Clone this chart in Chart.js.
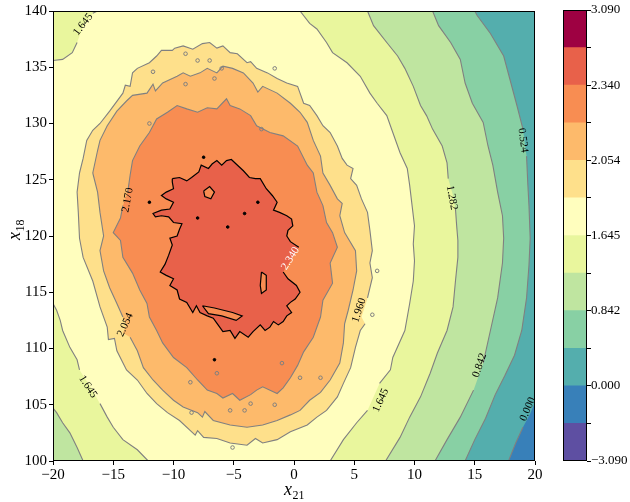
<!DOCTYPE html>
<html>
<head>
<meta charset="utf-8">
<script src="https://cdn.jsdelivr.net/npm/chart.js@4.4.1/dist/chart.umd.min.js"></script>
<style>
  html, body { margin: 0; padding: 0; background: #fff; }
  #wrap { position: relative; width: 630px; height: 502px; }
  #main { position: absolute; left: 0; top: 0; }
  #cbar { position: absolute; left: 540px; top: 0; }
</style>
</head>
<body>
<div id="wrap">
  <canvas id="main" width="630" height="502"></canvas>
  <canvas id="cbar" width="90" height="502"></canvas>
</div>
<script>
/* Axes */
const xRange = [-20, 20];
const yRange = [100, 140];
const xTicks = [-20, -15, -10, -5, 0, 5, 10, 15, 20];
const yTicks = [100, 105, 110, 115, 120, 125, 130, 135, 140];

/* Contour levels, bottom to top of the colour bar, and the band colours between them */
const levels = [-3.090, -1.282, 0.000, 0.524, 0.842, 1.282, 1.645, 1.960, 2.054, 2.170, 2.340, 2.576, 3.090];
const bandColors = ['#5e4fa2', '#3880b9', '#54aead', '#88d0a4', '#bfe5a0', '#e9f69d',
                    '#fffebe', '#fee08b', '#fdba6b', '#f88d52', '#e8614a', '#9e0142'];

/* Open contours (x21, x18), each one runs from frame to frame */
const c1645TopLeft = [[-20,135.6],[-19.2,135.7],[-18.4,136.3],[-18.0,137.2],[-17.5,138.7],[-16.7,139.8],[-16.3,140]];
const c1645BottomLeft = [[-20,114.0],[-19.7,113.4],[-19.4,112.5],[-19.2,111.6],[-18.6,110.1],[-18.0,109.0],[-17.8,108.1],
  [-16.9,106.6],[-16.1,105.1],[-15.5,103.9],[-15.0,103.0],[-14.2,101.9],[-13.0,101.0],[-12.1,100]];
const c1282BottomLeft = [[-20,104.7],[-19.7,104.3],[-19.2,103.4],[-18.6,102.5],[-18.0,101.2],[-17.5,100]];
const c1645Right = [[0.5,140],[1.3,138.9],[1.9,138.4],[2.7,137.2],[3.2,136.3],[4.4,135.4],[5.5,134.2],[6.3,132.7],
  [6.9,131.8],[7.7,130.7],[8.2,129.2],[8.8,127.4],[9.4,126.0],[9.6,124.5],[9.8,122.7],[10.0,120.9],[9.9,119.3],
  [10.0,117.8],[9.9,116.0],[9.6,114.0],[9.2,111.6],[8.2,109.2],[8.0,108.1],[7.1,106.9],[6.6,105.7],[6.1,104.5],
  [5.2,103.4],[4.1,101.9],[3.0,100]];
const c1282Right = [[6.1,140],[6.6,138.7],[7.7,137.2],[8.6,136.0],[9.2,134.9],[9.9,133.3],[10.5,131.6],[11.0,130.7],
  [11.5,129.5],[12.3,128.0],[12.7,126.5],[12.8,125.1],[13.2,123.6],[13.4,122.4],[13.5,120.9],[13.6,119.6],[13.6,118.1],
  [13.4,116.0],[13.2,113.7],[12.7,111.6],[11.9,109.6],[11.3,107.8],[10.5,105.7],[9.6,103.9],[8.8,102.1],[7.6,100]];
const c0842Right = [[11.5,140],[12.0,138.7],[13.0,137.2],[13.8,135.7],[14.2,133.6],[14.8,131.8],[15.7,130.1],[16.1,128.0],
  [16.5,126.3],[16.9,123.9],[17.3,121.8],[17.4,119.8],[17.3,117.6],[16.9,114.5],[16.3,111.6],[15.7,108.7],[14.9,106.3],
  [13.8,103.9],[12.7,101.9],[11.7,100]];
const c0524Right = [[15.0,140],[15.2,139.6],[16.3,138.0],[17.4,136.0],[17.9,134.0],[18.5,131.6],[19.0,129.5],[19.3,127.1],
  [19.4,124.7],[19.5,122.7],[19.6,119.8],[19.5,117.4],[19.3,114.5],[18.9,111.6],[18.3,109.4],[17.5,107.6],[16.7,105.9],
  [15.9,103.8],[15.0,101.9],[14.2,100]];
const c0000Right = [[20,105.2],[19.6,104.2],[19.0,103.0],[18.4,101.6],[17.8,100]];

/* Closed contours round the peak */
const c1960 = [[-17.8,125.6],[-17.5,126.9],[-17.2,128.5],[-16.7,129.4],[-16.1,130.0],[-15.3,131.1],[-14.2,132.7],
  [-14.0,133.4],[-13.6,133.3],[-13.4,134.5],[-13.0,134.9],[-12.0,135.4],[-11.4,136.0],[-11.0,136.5],[-10.1,136.5],
  [-9.9,136.7],[-9.2,136.9],[-8.4,136.6],[-7.6,137.1],[-7.0,137.2],[-6.4,136.7],[-5.9,136.9],[-5.3,136.3],[-4.7,136.2],
  [-3.9,135.4],[-3.6,135.5],[-3.1,134.9],[-2.2,134.5],[-1.4,134.0],[-0.6,133.6],[0.3,133.3],[0.8,131.8],[1.3,131.6],
  [1.9,130.7],[2.4,129.8],[3.0,129.2],[3.6,128.0],[4.0,126.9],[4.4,126.3],[4.9,126.0],[4.7,125.1],[5.2,124.5],
  [5.6,123.3],[6.1,122.1],[6.3,120.5],[6.5,118.7],[6.3,117.6],[6.5,116.3],[6.1,114.5],[5.6,112.8],[5.9,112.2],
  [5.5,111.6],[5.1,110.1],[4.7,108.3],[4.1,106.9],[3.6,105.7],[2.7,104.5],[1.9,103.9],[1.1,103.2],[-0.3,102.6],
  [-1.4,101.9],[-2.6,101.6],[-3.2,102.0],[-3.9,101.4],[-5.3,101.6],[-6.4,102.0],[-7.5,102.1],[-8.0,102.7],[-8.2,102.3],
  [-8.6,102.7],[-9.5,103.6],[-10.5,104.3],[-11.4,105.1],[-12.2,106.0],[-13.0,107.2],[-13.9,108.1],[-14.7,109.8],
  [-14.9,110.9],[-15.4,110.8],[-15.5,111.9],[-16.1,113.7],[-16.7,116.0],[-17.5,118.1],[-17.8,119.8],[-17.9,122.1],
  [-18.0,123.9]];
const c2054 = [[-16.7,125.6],[-16.3,127.6],[-16.1,128.5],[-15.5,129.8],[-14.7,131.1],[-13.9,132.0],[-13.4,132.5],
  [-12.2,132.7],[-11.7,133.5],[-11.5,132.9],[-10.9,133.6],[-9.7,134.2],[-9.2,134.5],[-8.6,134.2],[-7.8,134.5],
  [-7.2,134.9],[-6.4,134.5],[-5.9,135.1],[-5.1,134.9],[-4.2,134.5],[-3.4,133.6],[-3.0,132.8],[-2.6,133.3],[-1.4,132.7],
  [-0.3,131.8],[0.5,131.0],[1.1,130.1],[1.6,128.5],[2.2,127.1],[2.4,125.6],[3.0,124.5],[3.6,123.3],[4.0,122.9],
  [3.8,121.8],[4.2,120.3],[5.1,118.7],[5.2,116.9],[4.9,115.2],[4.5,113.4],[4.2,112.2],[4.1,110.5],[3.8,108.7],
  [3.0,107.2],[2.2,106.1],[1.3,105.4],[0.5,104.5],[-0.3,104.1],[-1.4,103.6],[-2.6,103.2],[-3.9,103.0],[-5.3,103.2],
  [-6.7,103.6],[-7.4,104.4],[-7.6,103.9],[-8.0,104.3],[-9.2,104.8],[-10.0,105.4],[-10.9,106.3],[-11.7,107.2],
  [-12.5,108.3],[-13.0,109.8],[-13.6,111.0],[-14.2,111.4],[-13.9,112.1],[-14.2,112.8],[-14.7,114.0],[-15.3,115.4],
  [-15.8,116.9],[-16.1,118.7],[-15.8,120.0],[-16.1,122.1],[-16.3,123.9]];
const c2170 = [[-13.8,123.9],[-13.6,125.4],[-13.4,126.7],[-12.8,128.0],[-12.0,129.2],[-11.4,130.4],[-10.5,131.0],
  [-9.7,131.6],[-8.9,131.3],[-8.0,131.0],[-7.2,131.4],[-6.4,131.3],[-5.6,132.2],[-5.3,131.6],[-4.5,131.3],[-3.6,130.7],
  [-3.1,129.8],[-2.0,129.2],[-0.9,128.9],[0.3,128.0],[1.1,126.3],[1.6,125.6],[1.9,123.9],[2.4,122.7],[2.7,121.2],
  [3.2,120.3],[3.6,119.0],[3.0,117.6],[3.2,115.8],[2.4,114.3],[2.2,112.8],[1.6,111.0],[0.8,109.7],[0.3,108.5],
  [-0.3,107.4],[-0.9,106.5],[-1.4,106.0],[-2.6,106.6],[-3.1,106.3],[-3.6,105.9],[-4.5,105.4],[-5.1,106.0],[-5.9,105.6],
  [-6.4,106.0],[-7.2,106.3],[-8.0,107.2],[-8.9,108.3],[-10.0,109.2],[-10.9,110.5],[-11.4,111.6],[-12.0,112.8],
  [-12.2,114.0],[-12.8,115.2],[-13.4,116.7],[-14.2,118.1],[-14.4,119.6],[-15.0,120.3],[-14.4,121.6],[-14.2,122.7]];
const c2340 = [[-10.1,125.1],[-9.5,125.2],[-8.9,124.9],[-8.5,125.2],[-7.9,125.7],[-7.7,126.3],[-7.1,126.0],[-6.8,126.4],
  [-6.4,126.7],[-6.0,126.3],[-5.6,126.7],[-5.2,126.8],[-4.8,126.4],[-4.2,125.8],[-3.7,125.2],[-3.2,125.1],[-2.8,125.1],
  [-2.3,124.2],[-1.8,123.6],[-1.4,123.0],[-1.7,122.3],[-1.2,122.1],[-0.6,121.8],[-0.2,121.5],[-0.1,120.9],[-0.5,120.5],
  [-0.6,120.0],[-0.3,119.5],[0.4,119.0],[-0.3,117.8],[-0.9,116.8],[-0.5,116.2],[0.2,115.6],[0.5,115.0],[0.1,114.4],
  [-0.3,114.1],[-0.6,113.8],[-0.2,113.2],[-0.6,112.9],[-0.9,112.4],[-1.3,112.1],[-1.7,112.4],[-2.0,111.9],[-2.4,111.6],
  [-2.8,112.1],[-3.4,111.5],[-3.8,111.0],[-4.5,111.5],[-4.9,110.9],[-5.3,111.6],[-5.9,111.5],[-6.3,112.1],[-6.7,112.7],
  [-7.2,112.9],[-7.8,113.2],[-8.1,113.8],[-8.4,113.2],[-8.9,114.1],[-9.5,114.4],[-9.7,115.2],[-10.3,115.6],[-10.0,116.2],
  [-10.6,116.5],[-11.1,116.8],[-10.7,117.5],[-10.4,118.3],[-10.1,119.2],[-10.3,119.8],[-9.7,120.0],[-9.5,120.6],
  [-9.3,121.1],[-10.0,121.2],[-10.4,121.7],[-11.0,121.8],[-11.5,121.7],[-11.7,122.0],[-11.0,122.3],[-10.3,122.4],
  [-10.0,123.0],[-10.6,123.3],[-11.0,123.6],[-10.6,123.9],[-10.0,124.2],[-10.1,124.8]];
/* pockets below 2.340 inside the 2.340 contour */
const holes2340 = [
  [[-7.5,124.0],[-7.0,124.4],[-6.6,123.9],[-6.9,123.3],[-7.4,123.5]],
  [[-2.7,116.8],[-2.3,116.5],[-2.3,115.2],[-2.7,114.9],[-2.8,115.6]],
  [[-7.6,113.8],[-6.6,113.6],[-5.1,113.2],[-4.3,112.9],[-4.8,112.5],[-6.0,112.9],[-7.1,113.1]]
];
/* tiny closed contours (specks) */
const speckX = [-9.0, -8.0, -7.0, -6.0, -9.0, -6.6, -1.6, -11.7, -12.0, -2.7, -8.5, -4.1, -5.3, -5.1, -1.0, 2.2, 0.5, -6.4, -8.6, -3.6, -1.6, 6.5, 6.9];
const speckY = [136.2, 135.6, 135.6, 134.9, 133.5, 134.0, 134.9, 134.6, 130.0, 129.5, 104.3, 104.5, 104.5, 101.2, 108.7, 107.4, 107.4, 107.8, 107.0, 105.1, 105.0, 113.0, 116.9];
const darkSpeckX = [-8.0, -5.5, -4.1, -3.0, -12.0, -7.5, -6.6];
const darkSpeckY = [121.6, 120.8, 122.0, 123.0, 123.0, 127.0, 109.0];

/* Inline contour labels: text, contour, position */
const contourLabels = [
  ['1.645', c1645TopLeft, -17.5, 138.8],
  ['1.645', c1645BottomLeft, -17.1, 106.6],
  ['1.645', c1645Right, 7.2, 105.4],
  ['1.282', c1282Right, 13.1, 123.4],
  ['0.842', c0842Right, 15.4, 108.5],
  ['0.524', c0524Right, 19.0, 128.5],
  ['0.000', c0000Right, 19.4, 104.6],
  ['1.960', c1960, 5.4, 113.4],
  ['2.054', c2054, -14.0, 112.1],
  ['2.170', c2170, -13.8, 123.2],
  ['2.340', c2340, -0.3, 118.0]
];

const serif = '"Liberation Serif", "DejaVu Serif", serif';
const tickFont = { family: serif, size: 15 };
const minus = (s) => s.replace('-', '\u2212');

const toXY = (pts) => pts.map(([x, y]) => ({ x, y }));
const zipXY = (xs, ys) => xs.map((x, i) => ({ x, y: ys[i] }));
const [xMin, xMax] = xRange;
const [yMin, yMax] = yRange;
const rightCorners = [[xMax, yMin], [xMax, yMax]];

/* filled regions, painted in this order */
const fills = [
  [[[xMin, yMin], [xMin, yMax], [xMax, yMax], [xMax, yMin]], 6],
  [c1645Right.concat(rightCorners), 5],
  [c1282Right.concat(rightCorners), 4],
  [c0842Right.concat(rightCorners), 3],
  [c0524Right.concat(rightCorners), 2],
  [c0000Right.concat(rightCorners), 1],
  [c1645TopLeft.concat([[xMin, yMax]]), 5],
  [c1645BottomLeft.concat([[xMin, yMin]]), 5],
  [c1282BottomLeft.concat([[xMin, yMin]]), 4],
  [c1960, 7],
  [c2054, 8],
  [c2170, 9],
  [c2340, 10]
].concat(holes2340.map(h => [h, 9]));

const openLines = [c1645TopLeft, c1645BottomLeft, c1282BottomLeft, c1645Right, c1282Right, c0842Right, c0524Right, c0000Right];
const loopLines = [c1960, c2054, c2170, c2340].concat(holes2340);

function gapColor(ctx) {
  const ds = ctx.chart.data.datasets[ctx.datasetIndex];
  const { x, y } = ctx.chart.scales;
  const mx = (ctx.p0.x + ctx.p1.x) / 2, my = (ctx.p0.y + ctx.p1.y) / 2;
  for (const l of ds.gaps) {
    if (Math.hypot(mx - x.getPixelForValue(l[2]), my - y.getPixelForValue(l[3])) < 13) return 'rgba(0,0,0,0)';
  }
  return undefined;
}

const datasets = fills.map(([pts, band], i) => ({
  data: toXY(pts), fill: 'shape', backgroundColor: bandColors[band],
  borderWidth: 0, borderColor: 'transparent', pointRadius: 0, order: 1000 - i
}));
openLines.concat(loopLines).forEach(pts => {
  const closed = loopLines.includes(pts);
  const dark = pts === c2340 || holes2340.includes(pts);
  datasets.push({
    data: toXY(closed ? pts.concat([pts[0]]) : pts), fill: false,
    borderColor: dark ? '#000000' : '#808080', borderWidth: dark ? 1.2 : 1.1,
    pointRadius: 0, order: 0,
    gaps: contourLabels.filter(l => l[1] === pts),
    segment: { borderColor: gapColor }
  });
});
datasets.push({
  data: zipXY(speckX, speckY), showLine: false, fill: false, order: -1,
  pointRadius: 1.8, pointBorderWidth: 1, pointBorderColor: '#808080', pointBackgroundColor: 'rgba(0,0,0,0)'
});
datasets.push({
  data: zipXY(darkSpeckX, darkSpeckY), showLine: false, fill: false, order: -1,
  pointRadius: 1.3, pointBorderWidth: 1, pointBorderColor: '#000000', pointBackgroundColor: '#000000'
});

function lineAngle(pts, px, py, xs, ys) {
  let best = Infinity, ang = 0;
  for (let i = 0; i < pts.length - 1; i++) {
    const ax = xs.getPixelForValue(pts[i][0]), ay = ys.getPixelForValue(pts[i][1]);
    const bx = xs.getPixelForValue(pts[i + 1][0]), by = ys.getPixelForValue(pts[i + 1][1]);
    const dx = bx - ax, dy = by - ay;
    const t = Math.max(0, Math.min(1, ((px - ax) * dx + (py - ay) * dy) / (dx * dx + dy * dy || 1)));
    const d = Math.hypot(ax + t * dx - px, ay + t * dy - py);
    if (d < best) { best = d; ang = Math.atan2(dy, dx); }
  }
  if (ang > Math.PI / 2) ang -= Math.PI;
  if (ang <= -Math.PI / 2) ang += Math.PI;
  return ang;
}

const labelPlugin = {
  id: 'contourLabels',
  afterDatasetsDraw(chart) {
    const { ctx, scales: { x, y } } = chart;
    ctx.save();
    ctx.font = '11px ' + serif;
    ctx.textAlign = 'center';
    ctx.textBaseline = 'middle';
    contourLabels.forEach(([text, pts, lx, ly]) => {
      const px = x.getPixelForValue(lx), py = y.getPixelForValue(ly);
      ctx.save();
      ctx.translate(px, py);
      ctx.rotate(lineAngle(pts, px, py, x, y));
      ctx.fillStyle = pts === c2340 ? '#ffffff' : '#000000';
      ctx.fillText(text, 0, 0);
      ctx.restore();
    });
    ctx.restore();
  }
};

const framePlugin = {
  id: 'frame',
  afterDraw(chart) {
    const { ctx, chartArea: a } = chart;
    ctx.save();
    ctx.strokeStyle = '#000';
    ctx.lineWidth = 1;
    ctx.strokeRect(a.left + 0.5, a.top + 0.5, a.right - a.left - 1, a.bottom - a.top - 1);
    ctx.restore();
  }
};

function subscripted(ctx, base, sub, cx, cy, rot) {
  ctx.save();
  ctx.translate(cx, cy);
  ctx.rotate(rot);
  ctx.fillStyle = '#000';
  ctx.textBaseline = 'alphabetic';
  ctx.font = 'italic 18px ' + serif;
  const w1 = ctx.measureText(base).width;
  ctx.font = '12px ' + serif;
  const w2 = ctx.measureText(sub).width;
  const x0 = -(w1 + w2) / 2;
  ctx.font = 'italic 18px ' + serif;
  ctx.fillText(base, x0, 0);
  ctx.font = '12px ' + serif;
  ctx.fillText(sub, x0 + w1 + 0.5, 4);
  ctx.restore();
}

const titlePlugin = {
  id: 'axisTitles',
  afterDraw(chart) {
    const a = chart.chartArea;
    subscripted(chart.ctx, 'x', '21', (a.left + a.right) / 2, 495, 0);
    subscripted(chart.ctx, 'x', '18', 20, 230, -Math.PI / 2);
  }
};

new Chart(document.getElementById('main'), {
  type: 'line',
  data: { datasets },
  options: {
    responsive: false,
    animation: false,
    devicePixelRatio: 1,
    events: [],
    layout: { padding: { left: 0, top: 10, right: 95, bottom: 0 } },
    plugins: { legend: { display: false }, tooltip: { enabled: false } },
    elements: { line: { tension: 0 } },
    scales: {
      x: {
        type: 'linear', min: xMin, max: xMax,
        afterBuildTicks: s => { s.ticks = xTicks.map(v => ({ value: v })); },
        afterFit: s => { s.height = 41; },
        ticks: { font: tickFont, color: '#000', padding: 1, maxRotation: 0, callback: v => minus(String(v)) },
        grid: { drawOnChartArea: false, tickLength: 4, color: '#000' },
        border: { display: false }
      },
      y: {
        type: 'linear', min: yMin, max: yMax,
        afterBuildTicks: s => { s.ticks = yTicks.map(v => ({ value: v })); },
        afterFit: s => { s.width = 53; },
        ticks: { font: tickFont, color: '#000', padding: 2, callback: v => String(v) },
        grid: { drawOnChartArea: false, tickLength: 4, color: '#000' },
        border: { display: false }
      }
    }
  },
  plugins: [labelPlugin, framePlugin, titlePlugin]
});

/* Colour bar */
new Chart(document.getElementById('cbar'), {
  type: 'bar',
  data: {
    labels: [''],
    datasets: bandColors.map((c, i) => ({
      data: [[i, i + 1]], backgroundColor: c, borderWidth: 0, barPercentage: 1, categoryPercentage: 1
    }))
  },
  options: {
    responsive: false,
    animation: false,
    devicePixelRatio: 1,
    events: [],
    layout: { padding: { left: 23, top: 10, right: 0, bottom: 41 } },
    plugins: { legend: { display: false }, tooltip: { enabled: false } },
    scales: {
      x: { display: false, stacked: true },
      y: {
        position: 'right', min: 0, max: levels.length - 1,
        afterBuildTicks: s => { s.ticks = levels.map((v, i) => ({ value: i })); },
        afterFit: s => { s.width = 43; },
        ticks: {
          font: { family: serif, size: 13 }, color: '#000', padding: 0, autoSkip: false,
          callback: v => (v % 2 === 0 ? minus(levels[v].toFixed(3)) : '')
        },
        grid: { drawOnChartArea: false, tickLength: 4, color: '#000' },
        border: { display: false }
      }
    }
  },
  plugins: [framePlugin]
});
</script>
</body>
</html>
